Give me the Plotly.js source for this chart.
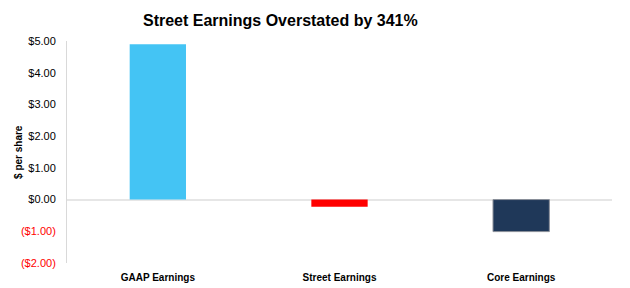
<!DOCTYPE html>
<html><head><meta charset="utf-8">
<script src="https://cdn.plot.ly/plotly-3.0.1.min.js"></script>
<style>body{margin:0;}#c{width:630px;height:288px;}</style>
</head><body><div id="c"></div>
<script>
const categories = ["GAAP Earnings", "Street Earnings", "Core Earnings"];
const values = [4.90, -0.23, -1.01];
const barColors = ["#44C4F4", "#FF0000", "#1F3859"];
const tickValues = [5, 4, 3, 2, 1, 0, -1, -2];
const tickLabels = ["$5.00", "$4.00", "$3.00", "$2.00", "$1.00", "$0.00", "($1.00)", "($2.00)"];

const ticktext = tickValues.map((v, i) => v < 0 ? '<span style="color:#FF0000">' + tickLabels[i] + '</span>' : tickLabels[i]);

Plotly.newPlot('c', [{
  type: 'bar',
  x: categories,
  y: values,
  marker: {color: barColors, line: {color: ['rgba(0,0,0,0)', 'rgba(0,0,0,0)', '#8a8f99'], width: 1}},
  hoverinfo: 'none'
}], {
  width: 630, height: 288,
  margin: {l: 67, r: 18, t: 41, b: 25},
  paper_bgcolor: '#fff', plot_bgcolor: '#fff',
  bargap: 0.69,
  showlegend: false,
  title: {text: '<b>Street Earnings Overstated by 341%</b>', x: 0.445, xanchor: 'center', y: 0.93, yanchor: 'middle', font: {family: 'Liberation Sans, Arial', size: 16, color: '#000'}},
  xaxis: {
    showgrid: false, zeroline: false, showline: false, ticks: '',
    tickfont: {family: 'Liberation Sans, Arial', size: 10, color: '#000', weight: 'bold'},
    ticklabelstandoff: 7
  },
  yaxis: {
    range: [-2, 5], tickvals: tickValues, ticktext: ticktext,
    showgrid: false, zeroline: true, zerolinecolor: '#e6e6e6', zerolinewidth: 2,
    showline: true, linecolor: '#d9d9d9', linewidth: 1,
    ticks: '', ticklabelstandoff: 8,
    tickfont: {family: 'Liberation Sans, Arial', size: 11, color: '#000'}
  },
  annotations: [{
    text: '<b>$ per share</b>', xref: 'paper', yref: 'paper', x: -0.09, y: 0.5,
    xanchor: 'center', yanchor: 'middle', textangle: -90, showarrow: false,
    font: {family: 'Liberation Sans, Arial', size: 10, color: '#000'}
  }]
}, {displayModeBar: false, staticPlot: true});
</script></body></html>
